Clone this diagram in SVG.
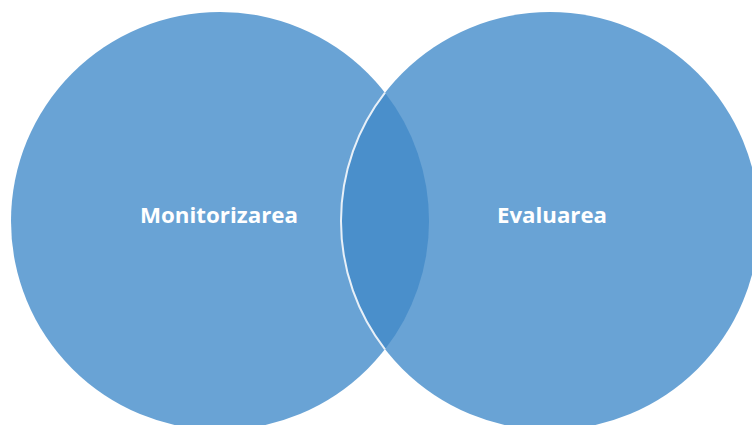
<svg xmlns="http://www.w3.org/2000/svg" width="752" height="425" viewBox="0 0 752 425">
<style>
.c{fill:#69A3D5;}
.lens{fill:#4A8FCB;}
.t{font-family:"Open Sans","Liberation Sans",sans-serif;font-weight:bold;font-size:22px;fill:#FFFFFF;text-anchor:middle;}
</style>
<rect width="752" height="425" fill="#FFFFFF"/>
<g id="node-monitorizarea">
<circle class="c" cx="220" cy="221" r="209"/>
</g>
<g id="node-evaluarea">
<circle class="c" cx="550" cy="221" r="209"/>
</g>
<g id="overlap">
<path class="lens" d="M385,92.7 A209,209 0 0 0 385,349.3 A209,209 0 0 0 385,92.7 Z"/>
<path d="M385,92.7 A209,209 0 0 0 385,349.3" fill="none" stroke="#E8F0F8" stroke-width="2"/>
</g>
<g id="labels">
<text class="t" x="219" y="223" textLength="158" lengthAdjust="spacingAndGlyphs">Monitorizarea</text>
<text class="t" x="552" y="223" textLength="110" lengthAdjust="spacingAndGlyphs">Evaluarea</text>
</g>
</svg>
